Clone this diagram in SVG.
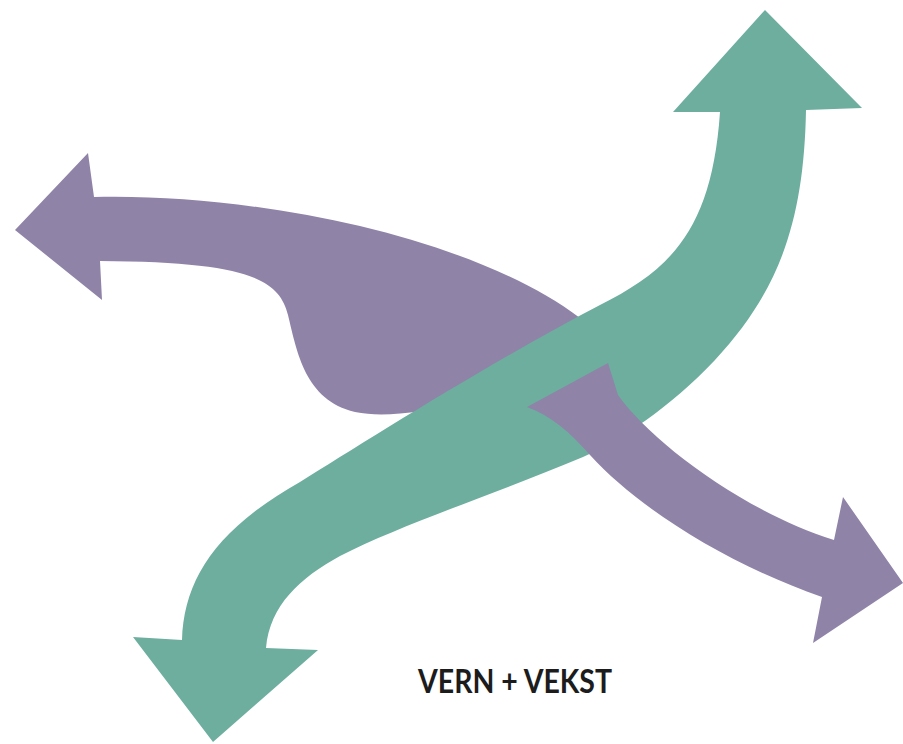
<svg xmlns="http://www.w3.org/2000/svg" width="903" height="744" viewBox="0 0 903 744">
<style>
.purple{fill:#8F83A8}
.green{fill:#6DAE9F}
.label{font-family:Lato,"Open Sans","Liberation Sans",sans-serif;font-weight:bold;font-size:33px;fill:#1c1c1c}
</style>
<rect width="903" height="744" fill="#ffffff"/>
<g id="purple-left">
<path class="purple" d="M15,230 L88,153 L94,197 C250,193 470,235 580,318 L610,350 L470,402 C420,412 385,418 355,412 C305,400 297,352 288,315 C279,278 245,262 100,261 L102,300 Z"/>
</g>
<g id="green-arrow">
<path class="green" d="M765,10 L862,108 L806,110 C804,220 780,290 715,360 C670,408 620,440 583,457 C500,492 400,525 340,556 C300,578 270,605 266,648 L318,650 L213,742 L133,637 L182,640 C184,580 215,530 300,482 C360,445 480,368 600,305 C670,270 712,230 720,112 L673,112 Z"/>
</g>
<g id="purple-right">
<path class="purple" d="M527,407 L608,363 L618,395 C650,440 740,510 834,540 L843,497 L903,583 L813,643 L822,597 C730,565 640,510 590,455 C570,432 550,415 527,407 Z"/>
</g>
<text class="label" x="418" y="693" textLength="194" lengthAdjust="spacingAndGlyphs">VERN + VEKST</text>
</svg>
